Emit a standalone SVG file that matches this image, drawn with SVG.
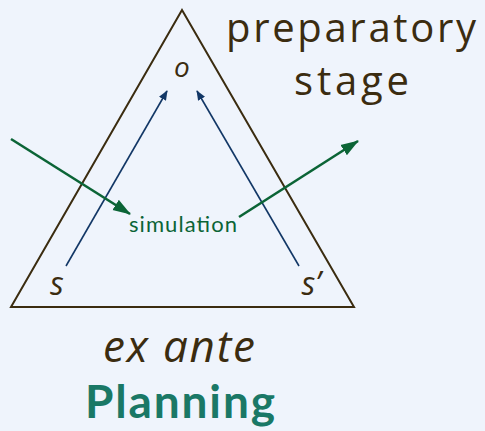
<svg xmlns="http://www.w3.org/2000/svg" width="485" height="431" viewBox="0 0 485 431">
<style>
.brown{fill:#3b2c10;font-family:"Open Sans","Lato",sans-serif}
.it{font-style:italic}
.blue{stroke:#123766;stroke-width:1.6;fill:none}
.green{stroke:#0b6436;stroke-width:2.6;fill:none}
</style>
<defs>
<marker id="ab" markerWidth="10" markerHeight="10" refX="9" refY="5" orient="auto" markerUnits="userSpaceOnUse" viewBox="0 0 10 10"><path d="M0,1 L10,5 L0,9 z" fill="#123766"/></marker>
<marker id="ag" markerWidth="18" markerHeight="14" refX="17" refY="7" orient="auto" markerUnits="userSpaceOnUse" viewBox="0 0 18 14"><path d="M0,1 L18,7 L0,13 z" fill="#0b6436"/></marker>
</defs>
<rect width="485" height="431" fill="#eff4fc"/>
<g id="triangle"><polygon points="182,10 354,307 11,307" fill="none" stroke="#3b2c10" stroke-width="2"/></g>
<g id="connectors">
<line class="blue" x1="66" y1="266" x2="167" y2="91" marker-end="url(#ab)"/>
<line class="blue" x1="299" y1="266" x2="197" y2="91" marker-end="url(#ab)"/>
<line class="green" x1="11" y1="139" x2="130" y2="214" marker-end="url(#ag)"/>
<line class="green" x1="239" y1="217" x2="358" y2="141" marker-end="url(#ag)"/>
</g>
<g id="o"><text class="brown it" x="182" y="77" font-size="28" text-anchor="middle">o</text></g>
<g id="s"><text class="brown it" x="57" y="295" font-size="32" text-anchor="middle">s</text></g>
<g id="s-prime"><text class="brown it" x="311" y="295" font-size="32" text-anchor="middle">s’</text></g>
<g id="simulation"><text x="129" y="232" font-size="22" textLength="108" lengthAdjust="spacing" fill="#0b6436" font-family="Lato,'Open Sans',sans-serif">simulation</text></g>
<g id="stage-label"><text class="brown" x="226" y="42" font-size="40" textLength="250" lengthAdjust="spacing">preparatory</text>
<text class="brown" x="294" y="95" font-size="40" textLength="115" lengthAdjust="spacing">stage</text></g>
<g id="ex-ante"><text class="brown it" x="103" y="362" font-size="44" textLength="152" lengthAdjust="spacing">ex ante</text></g>
<g id="planning"><text x="85" y="418" font-size="46" font-weight="bold" textLength="190" lengthAdjust="spacing" fill="#1a7866" font-family="Lato,'Open Sans',sans-serif">Planning</text></g>
</svg>
